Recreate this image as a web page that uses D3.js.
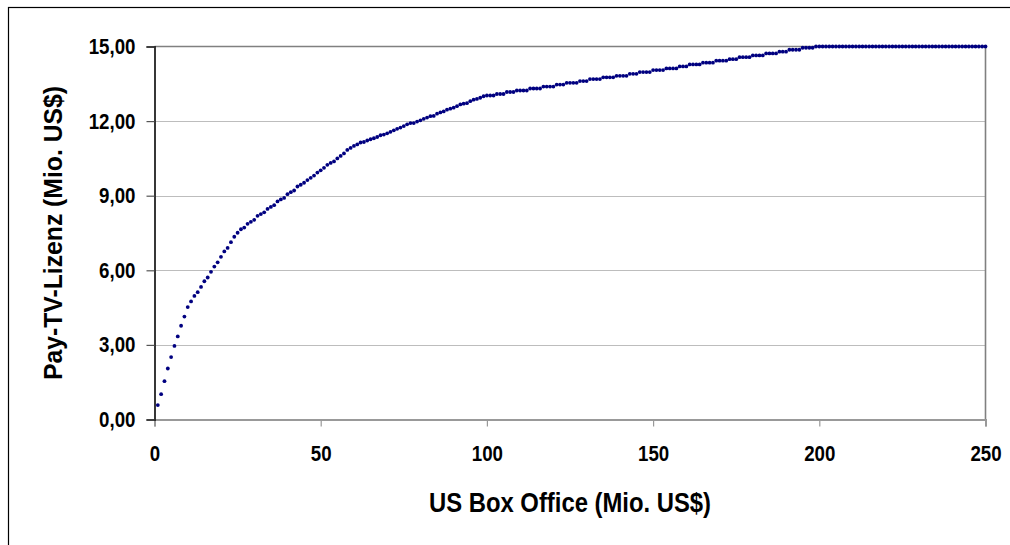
<!DOCTYPE html>
<html>
<head>
<meta charset="utf-8">
<script src="https://cdn.jsdelivr.net/npm/d3@7"></script>
<style>
  html, body { margin: 0; padding: 0; background: #fff; }
  svg { display: block; }
  text { font-family: "Liberation Sans", Arial, sans-serif; font-weight: bold; fill: #000; }
</style>
</head>
<body>
<svg id="chart" width="1010" height="545"></svg>
<script>
// US box office (Mio. US$), one film per step
const boxOffice = [
  1,2,3,4,5,6,7,8,9,10,11,12,13,14,15,16,17,18,19,20,21,22,23,24,25,
  26,27,28,29,30,31,32,33,34,35,36,37,38,39,40,41,42,43,44,45,46,47,48,49,50,
  51,52,53,54,55,56,57,58,59,60,61,62,63,64,65,66,67,68,69,70,71,72,73,74,75,
  76,77,78,79,80,81,82,83,84,85,86,87,88,89,90,91,92,93,94,95,96,97,98,99,100,
  101,102,103,104,105,106,107,108,109,110,111,112,113,114,115,116,117,118,119,120,121,122,123,124,125,
  126,127,128,129,130,131,132,133,134,135,136,137,138,139,140,141,142,143,144,145,146,147,148,149,150,
  151,152,153,154,155,156,157,158,159,160,161,162,163,164,165,166,167,168,169,170,171,172,173,174,175,
  176,177,178,179,180,181,182,183,184,185,186,187,188,189,190,191,192,193,194,195,196,197,198,199,200,
  201,202,203,204,205,206,207,208,209,210,211,212,213,214,215,216,217,218,219,220,221,222,223,224,225,
  226,227,228,229,230,231,232,233,234,235,236,237,238,239,240,241,242,243,244,245,246,247,248,249,250
];

// Pay-TV licence fee (Mio. US$)
const payTvLicence = [
  0.58,1.02,1.54,2.05,2.51,2.96,3.34,3.77,4.14,4.52,
  4.75,4.97,5.12,5.33,5.56,5.71,5.94,6.15,6.32,6.54,
  6.76,6.90,7.13,7.35,7.51,7.65,7.72,7.87,7.95,8.03,
  8.19,8.26,8.33,8.47,8.55,8.62,8.77,8.85,8.91,9.06,
  9.14,9.21,9.37,9.44,9.52,9.63,9.72,9.81,9.93,10.02,
  10.12,10.24,10.32,10.38,10.50,10.60,10.70,10.84,10.92,11.00,
  11.06,11.14,11.16,11.22,11.27,11.31,11.36,11.43,11.46,11.51,
  11.57,11.63,11.69,11.74,11.80,11.87,11.92,11.92,11.98,12.03,
  12.09,12.14,12.20,12.21,12.30,12.35,12.39,12.46,12.50,12.54,
  12.60,12.67,12.70,12.72,12.80,12.86,12.89,12.94,13.00,13.03,
  13.03,13.03,13.09,13.09,13.09,13.17,13.17,13.17,13.23,13.23,
  13.23,13.23,13.31,13.31,13.31,13.31,13.39,13.39,13.39,13.39,
  13.47,13.47,13.47,13.54,13.54,13.54,13.54,13.61,13.61,13.61,
  13.69,13.69,13.69,13.69,13.76,13.76,13.76,13.76,13.82,13.82,
  13.82,13.82,13.90,13.90,13.90,13.97,13.97,13.97,13.97,14.05,
  14.05,14.05,14.05,14.12,14.12,14.12,14.12,14.20,14.20,14.20,
  14.28,14.28,14.28,14.28,14.35,14.35,14.35,14.35,14.43,14.43,
  14.43,14.43,14.49,14.49,14.49,14.57,14.57,14.57,14.57,14.64,
  14.64,14.64,14.64,14.72,14.72,14.72,14.72,14.79,14.79,14.79,
  14.87,14.87,14.87,14.87,14.95,14.95,14.95,14.95,15.00,15.00,
  15.00,15.00,15.00,15.00,15.00,15.00,15.00,15.00,15.00,15.00,
  15.00,15.00,15.00,15.00,15.00,15.00,15.00,15.00,15.00,15.00,
  15.00,15.00,15.00,15.00,15.00,15.00,15.00,15.00,15.00,15.00,
  15.00,15.00,15.00,15.00,15.00,15.00,15.00,15.00,15.00,15.00,
  15.00,15.00,15.00,15.00,15.00,15.00,15.00,15.00,15.00,15.00
];

const xTicks = [0, 50, 100, 150, 200, 250];
const yTicks = [0, 3, 6, 9, 12, 15];
const xTitle = "US Box Office (Mio. US$)";
const yTitle = "Pay-TV-Lizenz (Mio. US$)";

const svg = d3.select("#chart");

// outer chart frame (runs past the right and bottom edges)
svg.append("rect")
  .attr("x", 8.5).attr("y", 7.5)
  .attr("width", 1100).attr("height", 600)
  .attr("fill", "#fff").attr("stroke", "#000").attr("stroke-width", 1.2);

const plotLeft = 154.5, plotRight = 985.5, plotTop = 46.5, plotBottom = 419.5;

const x = d3.scaleLinear().domain([0, 250]).range([plotLeft, plotRight]);
const y = d3.scaleLinear().domain([0, 15]).range([plotBottom, plotTop]);

const fmt = v => d3.format(".2f")(v).replace(".", ",");

// horizontal gridlines
svg.append("g")
  .selectAll("line")
  .data(yTicks.filter(v => v > 0 && v < 15))
  .join("line")
  .attr("x1", plotLeft).attr("x2", plotRight)
  .attr("y1", d => Math.round(y(d)) + 0.5).attr("y2", d => Math.round(y(d)) + 0.5)
  .attr("stroke", "#bdbdbd").attr("stroke-width", 1);

// plot area border: top and right
svg.append("path")
  .attr("d", `M${plotLeft},${plotTop}H${plotRight}V${plotBottom}`)
  .attr("fill", "none").attr("stroke", "#808080").attr("stroke-width", 1.6);

// x axis
const xAxis = svg.append("g")
  .attr("transform", `translate(0,${plotBottom})`)
  .call(d3.axisBottom(x).tickValues(xTicks).tickFormat(d3.format("d")).tickSize(7).tickPadding(19));
xAxis.select(".domain").attr("stroke", "#999").attr("stroke-width", 2);
xAxis.selectAll(".tick line").attr("stroke", "#999").attr("stroke-width", 1.2);
xAxis.selectAll(".tick text").attr("font-size", 22).attr("fill", "#000")
  .style("font-family", '"Liberation Sans", Arial, sans-serif').style("font-weight", "bold");

// y axis
const yAxis = svg.append("g")
  .attr("transform", `translate(${plotLeft},0)`)
  .call(d3.axisLeft(y).tickValues(yTicks).tickFormat(fmt).tickSize(8).tickPadding(11));
yAxis.select(".domain").attr("stroke", "#222").attr("stroke-width", 1.8);
yAxis.selectAll(".tick line").attr("stroke", "#555").attr("stroke-width", 1.2);
yAxis.selectAll(".tick text").attr("font-size", 22).attr("fill", "#000")
  .style("font-family", '"Liberation Sans", Arial, sans-serif').style("font-weight", "bold");

// slightly condensed tick labels
svg.selectAll(".tick text").each(function () {
  const w = this.getComputedTextLength();
  d3.select(this).attr("textLength", w * 0.85).attr("lengthAdjust", "spacingAndGlyphs");
});

// data points
const points = boxOffice.map((b, i) => ({ b, v: payTvLicence[i] }));
svg.append("g")
  .selectAll("circle")
  .data(points)
  .join("circle")
  .attr("cx", d => x(d.b))
  .attr("cy", d => y(d.v))
  .attr("r", 1.9)
  .attr("fill", "#000080");

// axis titles
svg.append("text")
  .attr("x", (plotLeft + plotRight) / 2).attr("y", 512)
  .attr("text-anchor", "middle")
  .attr("font-size", 27)
  .attr("textLength", 282).attr("lengthAdjust", "spacingAndGlyphs")
  .text(xTitle);

svg.append("text")
  .attr("transform", `translate(62,${(plotTop + plotBottom) / 2}) rotate(-90)`)
  .attr("text-anchor", "middle")
  .attr("font-size", 25)
  .attr("textLength", 294).attr("lengthAdjust", "spacingAndGlyphs")
  .text(yTitle);
</script>
</body>
</html>
